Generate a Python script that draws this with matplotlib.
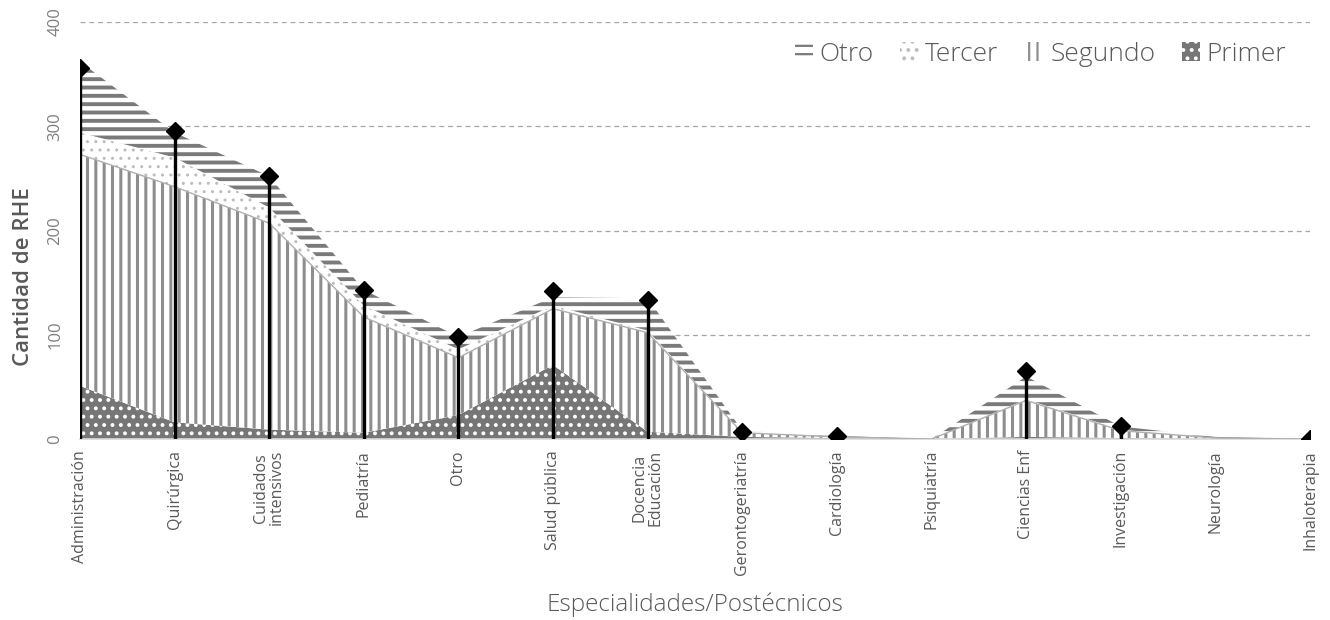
import matplotlib.pyplot as plt
import numpy as np

# categorias (especialidades / postecnicos)
categorias = ["Administración", "Quirúrgica", "Cuidados\nintensivos", "Pediatría", "Otro",
              "Salud pública", "Docencia\nEducación", "Gerontogeriatría", "Cardiología",
              "Psiquiatría", "Ciencias Enf", "Investigación", "Neurología", "Inhaloterapia"]

# valores por nivel
primer = [51, 16, 9, 6, 23, 71, 7, 2, 1, 0, 2, 1, 0, 0]
segundo = [222, 226, 198, 111, 55, 54, 95, 4, 1, 0, 35, 7, 1, 0]
tercer = [21, 28, 15, 11, 8, 3, 2, 0, 0, 0, 1, 1, 0, 0]
otro = [68, 24, 30, 15, 12, 8, 31, 2, 1, 0, 22, 3, 1, 0]

# total marcado con rombo (None = sin marcador)
total = [356, 295, 252, 143, 98, 142, 133, 7, 3, None, 65, 12, None, 0]

GRIS = "#595959"

fig = plt.figure(figsize=(13.3, 6.2), dpi=100)
ax = fig.add_axes([80 / 1330, 1 - 439 / 620, 1230 / 1330, 417 / 620])

x = np.arange(len(categorias))
p = np.array(primer)
s = p + np.array(segundo)
t = s + np.array(tercer)
o = t + np.array(otro)

plt.rcParams["hatch.linewidth"] = 1.6

# (base, tope, nombre, relleno, color trama, trama, grosor trama)
capas = [
    (0, p, "Primer", "#767676", "white", "..", 1.6),
    (p, s, "Segundo", "white", "#8e8e8e", "||", 2.2),
    (s, t, "Tercer", "white", "#bdbdbd", "..", 1.0),
    (t, o, "Otro", "white", "#7a7a7a", "--", 2.8),
]
handles = {}
for y0, y1, nombre, fc, hc, hatch, hlw in capas:
    col = ax.fill_between(x, y0, y1, facecolor=fc, edgecolor=hc, hatch=hatch,
                          linewidth=0, zorder=2)
    if hasattr(col, "set_hatch_linewidth"):
        col.set_hatch_linewidth(hlw)
    handles[nombre] = col

# borde superior del nivel segundo
ax.plot(x, s, color="#b0b0b0", lw=1, zorder=3)

# tallos con rombos
for xi, v in zip(x, total):
    if v is None:
        continue
    ax.vlines(xi, 0, v, color="black", lw=2.4, zorder=4)
    ax.plot(xi, v, marker="D", color="black", ms=9, zorder=5)

ax.set_xlim(0, len(categorias) - 1)
ax.set_ylim(0, 400)
ax.set_yticks([0, 100, 200, 300, 400])
ax.set_xticks(x)
ax.set_xticklabels(categorias, rotation=90, va="top", ha="center",
                   fontsize=11.5, color=GRIS, family="Open Sans", linespacing=1.0)
for lbl in ax.get_yticklabels():
    lbl.set_rotation(90)
    lbl.set_va("center")
    lbl.set_fontsize(12)
    lbl.set_color("#7f7f7f")
    lbl.set_family("Open Sans")
ax.tick_params(length=0, pad=12)
ax.tick_params(axis="x", pad=8)

ax.yaxis.grid(True, color="#a6a6a6", linestyle=(0, (4, 3)), lw=0.9)
ax.set_axisbelow(True)
for sp in ["top", "right", "left"]:
    ax.spines[sp].set_visible(False)
ax.spines["bottom"].set_color("#d9d9d9")
ax.spines["bottom"].set_linewidth(1.2)

ax.set_ylabel("Cantidad de RHE", fontsize=16, color=GRIS, family="Open Sans",
              fontweight="semibold")
ax.yaxis.set_label_coords(-0.037, 0.39)
ax.set_xlabel("Especialidades/Postécnicos", fontsize=17.5, color=GRIS, family="Open Sans",
              fontweight="light", va="center")
ax.xaxis.set_label_coords(0.5, -0.398)

orden = ["Otro", "Tercer", "Segundo", "Primer"]
leg = ax.legend([handles[n] for n in orden], orden, loc="upper right",
                bbox_to_anchor=(1.0, 1.01), ncol=4, frameon=False,
                handlelength=0.7, handleheight=0.7, handletextpad=0.25,
                columnspacing=1.0, prop={"family": "Open Sans", "size": 19, "weight": "light"})
for txt in leg.get_texts():
    txt.set_color(GRIS)

fig.savefig("out.png", dpi=100)
